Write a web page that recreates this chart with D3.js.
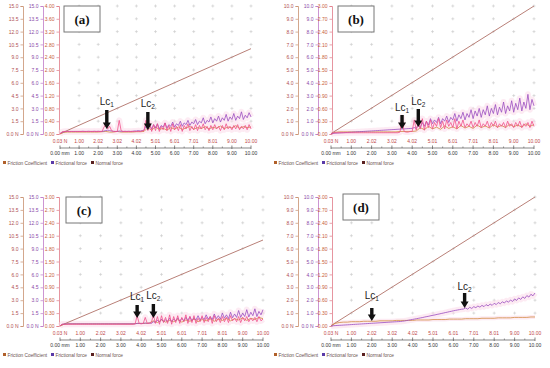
<!DOCTYPE html>
<html><head><meta charset="utf-8">
<script src="https://cdn.jsdelivr.net/npm/d3@7"></script>
<style>
body{margin:0;background:#fff}
svg{display:block;font-family:"Liberation Sans",Arial,sans-serif}
</style>
</head><body>
<script>
// x axis rows
const loadTicks = ["0.03 N","1.00","2.02","3.02","4.02","5.01","6.01","7.01","8.01","9.00","10.00"];
const mmTicks = ["0.00 mm","1.00","2.00","3.00","4.00","5.00","6.00","7.00","8.00","9.00","10.00"];
const mmPos = [0,1,2,3,4,5,6,7,8,9,10];
const ticks15 = [0,1.5,3,4.5,6,7.5,9,10.5,12,13.5,15];
const ticks10 = [0,1,2,3,4,5,6,7,8,9,10];
const ticks4 = [0,0.4,0.8,1.2,1.6,2,2.4,2.8,3.2,3.6,4];
const ticks3 = [0,0.3,0.6,0.9,1.2,1.5,1.8,2.1,2.4,2.7,3];
const legendNames = ["Friction Coefficient","Frictional force","Normal force"];

// normal force: linear ramp, mm -> N
const normalMm = [0, 10];
const normalN = [0.03, 10.0];

// panel (a): frictional force (N, 0.1 mm step), AE trace, friction coefficient (0.2 mm step)
const ffA = [0.05,0.2,0.25,0.3,0.3,0.3,0.3,0.3,0.3,0.3,
  0.3,0.3,0.32,0.3,0.3,0.32,0.3,0.3,0.32,0.3,
  0.32,0.3,0.3,0.35,0.4,0.45,0.4,0.35,0.32,0.3,
  0.3,0.35,0.32,0.3,0.32,0.3,0.32,0.3,0.32,0.35,
  0.35,0.4,0.35,0.4,0.45,0.9,0.5,1.0,0.6,1.1,
  0.7,1.2,0.6,1.0,0.8,1.3,0.7,1.1,0.9,1.4,
  0.8,1.2,1.0,1.5,0.9,1.3,1.1,1.6,1.0,1.4,
  1.2,1.7,1.1,1.5,1.3,1.9,1.2,1.6,1.4,2.0,
  1.3,1.8,1.5,2.1,1.4,1.9,1.6,2.3,1.5,2.0,
  1.7,2.4,1.6,2.1,1.8,2.6,1.7,2.2,1.9,2.5,
  2.0];
const aeA = [0.0,0.25,0.3,0.3,0.3,0.3,0.3,0.3,0.3,0.3,
  0.3,0.3,0.3,0.3,0.3,0.3,0.3,0.3,0.3,0.3,
  0.3,0.3,0.3,0.8,1.1,0.6,0.9,0.4,0.3,0.3,
  0.3,1.6,0.4,0.3,0.3,0.3,0.3,0.3,0.3,0.3,
  0.3,0.3,0.3,0.35,0.4,1.6,0.4,1.3,0.3,1.1,
  0.4,1.2,0.3,0.9,0.5,1.3,0.4,1.0,0.3,1.2,
  0.5,0.9,0.4,1.1,0.3,1.0,0.6,1.2,0.4,0.9,
  0.5,1.1,0.4,1.0,0.6,1.2,0.5,0.9,0.4,1.0,
  0.5,1.1,0.6,0.9,0.4,1.0,0.5,1.2,0.6,0.9,
  0.5,1.0,0.6,1.1,0.5,0.9,0.6,1.0,0.5,1.1,
  0.6];
const fcA = [0.0,0.05,0.06,0.06,0.06,0.06,0.06,0.06,0.06,0.06,0.06,0.07,0.08,0.06,0.06,0.08,0.06,0.06,0.06,0.06,0.07,0.07,0.08,
  0.2,0.12,0.22,0.14,0.18,0.12,0.2,0.15,0.22,0.14,0.19,0.24,0.15,0.2,0.17,0.23,0.16,0.21,0.18,0.25,0.17,0.22,0.19,0.26,0.18,0.23,0.2,0.22];
const lcA = [2.45, 4.6];

// panel (b)
const ffB = [0.0,0.05,0.06,0.07,0.08,0.09,0.1,0.11,0.12,0.13,
  0.14,0.15,0.16,0.17,0.18,0.19,0.2,0.21,0.22,0.23,
  0.24,0.25,0.26,0.27,0.28,0.29,0.3,0.31,0.32,0.33,
  0.34,0.35,0.36,0.37,0.38,0.39,0.4,0.41,0.42,0.43,
  0.44,0.5,0.45,0.7,0.5,0.9,0.6,1.0,0.7,1.2,
  0.8,1.1,0.9,1.3,0.8,1.2,1.0,1.4,0.9,1.3,
  1.1,1.6,1.0,1.5,1.2,1.7,1.1,1.6,1.3,1.9,
  1.2,1.8,1.4,2.0,1.3,1.9,1.5,2.2,1.4,2.0,
  1.6,2.3,1.5,2.1,1.7,2.5,1.6,2.2,1.8,2.6,
  1.7,2.4,1.9,2.8,1.8,2.5,2.0,3.1,1.9,2.7,
  2.2];
const aeB = [0.0,0.1,0.1,0.1,0.1,0.1,0.1,0.1,0.1,0.1,
  0.1,0.1,0.1,0.1,0.1,0.1,0.1,0.1,0.1,0.1,
  0.1,0.1,0.1,0.1,0.1,0.1,0.1,0.1,0.1,0.1,
  0.1,0.1,0.1,0.1,0.15,1.3,0.2,0.15,0.15,0.2,
  0.2,1.1,0.3,0.9,0.4,1.2,0.3,1.0,0.5,1.1,
  0.4,0.9,0.6,1.2,0.5,1.0,0.4,1.1,0.6,0.9,
  0.5,1.2,0.4,1.0,0.6,1.1,0.5,0.8,0.6,1.0,
  0.5,0.9,0.6,1.1,0.5,0.8,0.6,1.0,0.5,0.9,
  0.6,1.0,0.5,0.8,0.6,0.9,0.5,1.0,0.6,0.8,
  0.5,0.9,0.6,1.0,0.5,0.8,0.6,0.9,0.5,1.0,
  0.6];
const fcB = [0.0,0.04,0.05,0.05,0.05,0.05,0.05,0.05,0.05,0.05,0.05,0.05,0.05,0.05,0.05,0.05,0.05,0.06,0.06,0.06,0.06,0.07,
  0.15,0.1,0.18,0.12,0.16,0.11,0.19,0.13,0.17,0.12,0.2,0.14,0.18,0.13,0.21,0.15,0.19,0.14,0.22,0.16,0.2,0.15,0.23,0.17,0.21,0.16,0.24,0.18,0.22];
const lcB = [3.5, 4.3];

// panel (c)
const ffC = [0.0,0.2,0.22,0.24,0.25,0.25,0.25,0.25,0.25,0.25,
  0.25,0.25,0.25,0.25,0.25,0.25,0.25,0.25,0.25,0.25,
  0.25,0.25,0.25,0.25,0.25,0.25,0.25,0.25,0.25,0.25,
  0.25,0.25,0.25,0.25,0.25,0.25,0.25,0.25,0.3,0.3,
  0.3,0.3,0.35,0.3,0.35,0.3,0.5,0.4,0.7,0.45,
  0.8,0.5,0.7,0.55,0.9,0.5,0.8,0.6,0.95,0.55,
  0.9,0.6,1.0,0.65,1.1,0.6,0.95,0.7,1.2,0.7,
  1.0,0.75,1.3,0.8,1.1,0.75,1.4,0.85,1.2,0.8,
  1.5,0.9,1.3,0.85,1.6,0.95,1.4,1.0,1.8,1.0,
  1.5,1.1,1.9,1.05,1.6,1.2,2.0,1.1,1.7,1.3,
  1.9];
const aeC = [0.0,0.2,0.2,0.2,0.2,0.2,0.2,0.2,0.2,0.2,
  0.2,0.2,0.2,0.2,0.2,0.2,0.2,0.2,0.2,0.2,
  0.2,0.2,0.2,0.2,0.2,0.2,0.2,0.2,0.2,0.2,
  0.2,0.2,0.2,0.2,0.2,0.2,0.2,0.25,1.2,0.3,
  0.25,0.3,1.0,0.3,0.3,0.4,1.3,0.3,1.1,0.2,
  1.2,0.4,1.0,0.3,1.3,0.2,1.1,0.4,1.2,0.3,
  1.0,0.5,1.3,0.3,1.1,0.4,1.2,0.3,0.9,0.5,
  1.2,0.4,1.0,0.5,1.1,0.3,1.2,0.5,0.9,0.4,
  1.1,0.5,1.0,0.4,1.2,0.6,0.9,0.5,1.1,0.4,
  1.0,0.6,1.1,0.5,0.9,0.6,1.0,0.5,1.1,0.6,
  0.8];
const fcC = [0.0,0.04,0.05,0.05,0.05,0.05,0.05,0.05,0.05,0.05,0.05,0.05,0.05,0.05,0.05,0.05,0.05,0.05,0.05,0.06,0.06,0.06,0.07,
  0.12,0.08,0.14,0.09,0.13,0.1,0.15,0.09,0.14,0.11,0.16,0.1,0.15,0.12,0.17,0.11,0.16,0.13,0.18,0.12,0.17,0.14,0.19,0.13,0.18,0.15,0.2,0.17];
const lcC = [3.8, 4.6];

// panel (d)
const ffD = [0.0,0.02,0.03,0.04,0.05,0.06,0.07,0.08,0.09,0.1,
  0.11,0.12,0.13,0.14,0.15,0.16,0.17,0.18,0.19,0.2,
  0.21,0.22,0.23,0.24,0.25,0.26,0.27,0.28,0.29,0.3,
  0.31,0.32,0.33,0.34,0.35,0.37,0.39,0.42,0.45,0.48,
  0.51,0.54,0.57,0.6,0.63,0.66,0.7,0.73,0.76,0.8,
  0.83,0.86,0.9,0.93,0.97,1.0,1.04,1.07,1.11,1.14,
  1.18,1.21,1.24,1.27,1.3,1.32,1.4,1.3,1.45,1.36,
  1.5,1.42,1.55,1.46,1.6,1.5,1.66,1.56,1.7,1.6,
  1.76,1.66,1.82,1.72,1.88,1.78,1.95,1.84,2.02,1.9,
  2.1,1.98,2.18,2.06,2.26,2.14,2.36,2.24,2.46,2.34,
  2.56];
const aeD = [];
const fcD = [0.0,0.06,0.08,0.09,0.09,0.1,0.1,0.1,0.11,0.11,
  0.11,0.11,0.12,0.12,0.12,0.12,0.13,0.13,0.13,0.13,
  0.13,0.14,0.14,0.14,0.14,0.15,0.15,0.15,0.15,0.16,
  0.16,0.16,0.16,0.17,0.17,0.17,0.17,0.18,0.18,0.18,
  0.18,0.19,0.19,0.19,0.19,0.2,0.2,0.2,0.2,0.21,
  0.21];
const lcD = [2.0, 6.55];

const col = {
  normal: '#b98078', fc: '#d08a40', ff: '#9a4cc0', ae: '#f0508a', halo: '#fcdcea',
  ax1: '#b05050', ax1line: '#c89070', ax2: '#8a4aa8', ax2line: '#c07ac8', ax3: '#c8603a', ax3line: '#e07a88'
};

const svg = d3.select('body').append('svg').attr('width', 550).attr('height', 368);

const panels = [
  {tag:'(a)', x0:60, x1:251, yTop:6, yBot:134, ax:[23,43,59], max1:15, t1:ticks15, max3:4, t3:ticks4, ff:ffA, ae:aeA, fc:fcA, lc:lcA, lcY:[[-29,-24,-5],[-27,-22,-4]], box:[4,0]},
  {tag:'(b)', x0:331, x1:534, yTop:6, yBot:134, ax:[298,318,332], max1:10, t1:ticks10, max3:3, t3:ticks3, ff:ffB, ae:aeB, fc:fcB, lc:lcB, lcY:[[-23,-19,-5],[-29,-25,-7]], box:[7,0]},
  {tag:'(c)', x0:60, x1:263, yTop:197, yBot:326, ax:[23,43,59], max1:15, t1:ticks15, max3:3, t3:ticks3, ff:ffC, ae:aeC, fc:fcC, lc:lcC, lcY:[[-26,-21,-8],[-27,-22,-8]], box:[6,0]},
  {tag:'(d)', x0:331, x1:535, yTop:197, yBot:326, ax:[298,318,332], max1:10, t1:ticks10, max3:3, t3:ticks3, ff:ffD, ae:aeD, fc:fcD, lc:lcD, lcY:[[-27,-18,-5],[-36,-33,-18]], box:[12,-3]}
];

function drawPanel(p){
  var g = svg.append('g');
  var x = d3.scaleLinear().domain([0, 10]).range([p.x0, p.x1]);
  var y1 = d3.scaleLinear().domain([0, p.max1]).range([p.yBot, p.yTop]);
  var y3 = d3.scaleLinear().domain([0, p.max3]).range([p.yBot, p.yTop]);

  // grid crosses
  var cross = [];
  mmPos.slice(1).forEach(m => p.t1.slice(1).forEach(v => cross.push([x(m), y1(v)])));
  g.selectAll('path.cross').data(cross).enter().append('path').attr('class', 'cross')
    .attr('d', d => 'M' + (d[0]-1.5) + ',' + d[1] + 'h3M' + d[0] + ',' + (d[1]-1.5) + 'v3')
    .attr('stroke', '#c8c8c8').attr('stroke-width', 0.6);

  // three left axes
  var fmt1 = d => d === 0 ? '0.0 N' : d3.format('.1f')(d);
  var axes = [
    {s: y1, t: p.t1, f: fmt1, c: col.ax1, lc: col.ax1line, pos: p.ax[0]},
    {s: y1, t: p.t1, f: fmt1, c: col.ax2, lc: col.ax2line, pos: p.ax[1]},
    {s: y3, t: p.t3, f: d3.format('.2f'), c: col.ax3, lc: col.ax3line, pos: p.ax[2]}
  ];
  axes.forEach(a => {
    var ag = g.append('g').attr('transform', 'translate(' + a.pos + ',0)')
      .call(d3.axisLeft(a.s).tickValues(a.t).tickFormat(a.f).tickSize(2.5).tickPadding(2));
    ag.select('.domain').attr('stroke', a.lc).attr('stroke-width', 0.8);
    ag.selectAll('.tick line').attr('stroke', a.lc).attr('stroke-width', 0.7);
    ag.selectAll('.tick text').attr('fill', a.c).attr('font-size', 5).attr('font-family', '"Liberation Sans",Arial,sans-serif');
  });

  // load row labels
  g.selectAll('text.load').data(loadTicks).enter().append('text').attr('class', 'load')
    .attr('x', (d, i) => x(mmPos[i])).attr('y', p.yBot + 9)
    .attr('text-anchor', 'middle').attr('font-size', 5).attr('fill', '#c04848').text(d => d);

  // mm axis
  var my = p.yBot + 14;
  g.append('line').attr('x1', x(0)).attr('x2', x(10)).attr('y1', my).attr('y2', my)
    .attr('stroke', '#555').attr('stroke-width', 0.7);
  g.selectAll('line.maj').data(mmPos).enter().append('line').attr('class', 'maj')
    .attr('x1', d => x(d)).attr('x2', d => x(d)).attr('y1', my - 2.5).attr('y2', my + 1)
    .attr('stroke', '#555').attr('stroke-width', 0.7);
  g.selectAll('line.min').data(mmPos.slice(1)).enter().append('line').attr('class', 'min')
    .attr('x1', d => x(d - 0.5)).attr('x2', d => x(d - 0.5)).attr('y1', my - 1.5).attr('y2', my)
    .attr('stroke', '#555').attr('stroke-width', 0.6);
  g.selectAll('text.mm').data(mmTicks).enter().append('text').attr('class', 'mm')
    .attr('x', (d, i) => x(mmPos[i])).attr('y', my + 7)
    .attr('text-anchor', 'middle').attr('font-size', 5).attr('fill', '#333').text(d => d);

  // legend
  var lx = [p.x0 - 57, p.x0 - 9, p.x0 + 31];
  var lcols = ['#b0602a', '#5a3aa8', '#5a2020'];
  legendNames.forEach((n, i) => {
    g.append('rect').attr('x', lx[i]).attr('y', p.yBot + 27).attr('width', 3).attr('height', 3).attr('fill', lcols[i]);
    g.append('text').attr('x', lx[i] + 4.5).attr('y', p.yBot + 30.5).attr('font-size', 4.8).attr('fill', '#6a5050').text(n);
  });

  // traces
  var line01 = s => d3.line().x((d, i) => x(i * 0.1)).y(d => s(d));
  var line02 = s => d3.line().x((d, i) => x(i * 0.2)).y(d => s(d));
  var halo = g.append('g').attr('fill', 'none').attr('stroke', col.halo).attr('stroke-width', 6).attr('stroke-linejoin', 'round').attr('opacity', 0.55);
  halo.append('path').attr('d', line01(y1)(p.ff));
  halo.append('path').attr('d', line02(y3)(p.fc)).attr('stroke-width', 4);
  if (p.ae.length) halo.append('path').attr('d', line01(y1)(p.ae));

  g.append('path').datum(normalN).attr('fill', 'none').attr('stroke', col.normal).attr('stroke-width', 1)
    .attr('d', d3.line().x((d, i) => x(normalMm[i])).y(d => y1(d)));
  g.append('path').attr('fill', 'none').attr('stroke', col.fc).attr('stroke-width', 0.8).attr('d', line02(y3)(p.fc));
  g.append('path').attr('fill', 'none').attr('stroke', col.ff).attr('stroke-width', 0.8).attr('d', line01(y1)(p.ff));
  if (p.ae.length) g.append('path').attr('fill', 'none').attr('stroke', col.ae).attr('stroke-width', 0.8).attr('d', line01(y1)(p.ae));

  // Lc markers
  p.lc.forEach((m, i) => {
    var cx = x(m), ly = p.lcY[i];
    var t = g.append('text').attr('x', cx).attr('y', p.yBot + ly[0]).attr('text-anchor', 'middle')
      .attr('font-size', 10).attr('fill', '#222');
    t.append('tspan').text('Lc');
    t.append('tspan').attr('font-size', 6.5).attr('dy', 2).text(i + 1);
    var top = p.yBot + ly[1], bot = p.yBot + ly[2];
    g.append('path').attr('fill', '#111')
      .attr('d', 'M' + (cx - 1.7) + ',' + top + 'H' + (cx + 1.7) + 'V' + (bot - 6.5) + 'H' + (cx + 4) + 'L' + cx + ',' + bot + 'L' + (cx - 4) + ',' + (bot - 6.5) + 'H' + (cx - 1.7) + 'Z');
  });

  // panel tag box
  g.append('rect').attr('x', p.x0 + p.box[0]).attr('y', p.yTop + p.box[1]).attr('width', 36).attr('height', 26)
    .attr('fill', '#fff').attr('stroke', '#777').attr('stroke-width', 1);
  g.append('text').attr('x', p.x0 + p.box[0] + 18).attr('y', p.yTop + p.box[1] + 17.5).attr('text-anchor', 'middle')
    .attr('font-family', '"Liberation Serif","Times New Roman",serif').attr('font-weight', 'bold').attr('font-size', 13)
    .attr('fill', '#111').text(p.tag);
}

panels.forEach(drawPanel);
</script>
</body></html>
